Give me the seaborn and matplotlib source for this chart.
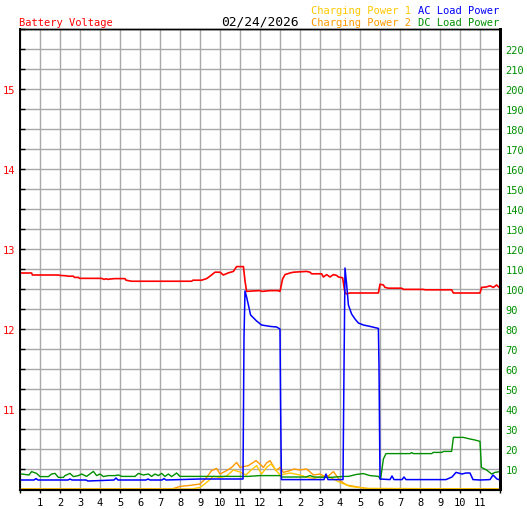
import seaborn as sns
import matplotlib.pyplot as plt

# battery voltage (V) against hour of day
volt_hours = [0.0, 0.58, 0.62, 1.9, 2.0, 2.33, 2.38, 2.67, 2.72, 2.92,
              2.97, 4.08, 4.2, 4.3, 4.4, 4.5, 4.75, 5.25, 5.3, 5.58,
              8.58, 8.65, 9.08, 9.33, 9.5, 9.75, 10.0, 10.17, 10.4, 10.67,
              10.83, 11.17, 11.25, 11.33, 11.6, 12.0, 12.1, 12.5, 12.9, 13.0,
              13.13, 13.25, 13.5, 13.67, 14.33, 14.5, 14.58, 15.08, 15.17, 15.33,
              15.5, 15.67, 15.83, 15.92, 16.13, 16.25, 16.33, 16.5, 17.92, 18.0,
              18.17, 18.25, 18.42, 19.08, 19.17, 20.17, 20.25, 21.58, 21.67, 23.0,
              23.08, 23.3, 23.5, 23.67, 23.83, 24.0]
volt = [12.70, 12.70, 12.675, 12.675, 12.67, 12.665, 12.66, 12.66, 12.645, 12.645,
        12.633, 12.633, 12.62, 12.628, 12.62, 12.625, 12.63, 12.63, 12.61, 12.597,
        12.597, 12.61, 12.61, 12.63, 12.66, 12.71, 12.71, 12.675, 12.70, 12.72,
        12.78, 12.78, 12.60, 12.47, 12.475, 12.48, 12.47, 12.48, 12.48, 12.47,
        12.625, 12.68, 12.70, 12.71, 12.72, 12.71, 12.69, 12.69, 12.65, 12.68,
        12.65, 12.68, 12.67, 12.65, 12.64, 12.45, 12.44, 12.45, 12.45, 12.56,
        12.55, 12.52, 12.51, 12.51, 12.495, 12.495, 12.49, 12.49, 12.45, 12.45,
        12.52, 12.525, 12.54, 12.52, 12.55, 12.51]

# charging power 1 (W)
cp1_hours = [0.0, 8.6, 9.0, 9.3, 9.67, 10.0, 10.33, 10.67, 11.0, 11.3,
             11.58, 11.83, 12.08, 12.33, 12.55, 12.75, 13.0, 13.5, 14.0, 14.3,
             14.67, 15.0, 15.33, 15.67, 16.0, 16.5, 17.33, 24.0]
cp1_power = [0.0, 0.0, 0.8, 3.0, 6.3, 5.8, 6.5, 9.5, 8.5, 7.0,
             9.7, 11.7, 7.5, 10.8, 12.5, 10.0, 7.0, 8.0, 7.0, 6.0,
             5.3, 6.0, 6.7, 5.0, 3.3, 1.3, 0.3, 0.0]

# charging power 2 (W)
cp2_hours = [0.0, 7.6, 8.0, 8.5, 9.0, 9.33, 9.58, 9.83, 10.0, 10.33,
             10.58, 10.83, 11.0, 11.42, 11.8, 12.08, 12.17, 12.33, 12.5, 12.6,
             12.8, 13.0, 13.17, 13.5, 13.7, 14.0, 14.33, 14.67, 15.0, 15.33,
             15.67, 16.0, 16.33, 17.0, 17.5, 24.0]
cp2_power = [0.0, 0.0, 1.3, 1.8, 2.5, 5.8, 9.2, 10.3, 7.5, 9.2,
             10.8, 13.3, 10.8, 11.7, 14.2, 11.7, 10.8, 13.0, 14.2, 12.5,
             9.2, 10.8, 8.3, 9.2, 10.0, 9.5, 10.0, 7.0, 7.5, 5.8,
             8.7, 4.2, 2.0, 0.8, 0.0, 0.0]

# AC load power (W)
ac_hours = [0.0, 0.7, 0.8, 0.9, 2.4, 2.5, 2.6, 3.3, 3.4, 4.7,
            4.8, 4.9, 6.3, 6.4, 6.5, 7.1, 7.2, 7.3, 9.0, 11.15,
            11.2, 11.25, 11.33, 11.42, 11.53, 11.83, 12.08, 12.5, 12.83, 13.0,
            13.03, 13.07, 14.5, 15.2, 15.3, 15.4, 16.15, 16.2, 16.25, 16.33,
            16.42, 16.58, 16.75, 16.92, 17.17, 17.5, 17.92, 17.95, 18.0, 18.5,
            18.6, 18.7, 19.1, 19.2, 19.3, 20.0, 20.6, 21.3, 21.6, 21.8,
            22.1, 22.3, 22.5, 22.65, 23.0, 23.5, 23.65, 23.85, 24.0]
ac_power = [4.5, 4.5, 5.2, 4.5, 4.5, 5.0, 4.5, 4.5, 4.0, 4.5,
            5.5, 4.5, 4.5, 5.0, 4.5, 4.5, 5.2, 4.5, 5.0, 5.0,
            76.0, 99.0, 96.0, 92.0, 87.0, 84.0, 82.0, 81.3, 81.0, 80.0,
            42.5, 4.7, 4.7, 4.7, 7.5, 4.7, 4.7, 60.0, 110.5, 102.5,
            92.0, 87.5, 85.0, 83.0, 82.0, 81.3, 80.3, 61.7, 5.0, 4.7,
            6.5, 4.7, 4.7, 6.0, 4.7, 4.7, 4.7, 4.7, 6.0, 8.3,
            7.5, 8.0, 8.0, 4.7, 4.5, 4.7, 7.0, 5.0, 4.5]

# DC load power (W)
dc_hours = [0.0, 0.08, 0.45, 0.58, 0.83, 1.0, 1.42, 1.58, 1.75, 1.92,
            2.17, 2.25, 2.5, 2.67, 2.92, 3.08, 3.33, 3.67, 3.83, 4.0,
            4.17, 4.4, 4.75, 4.92, 5.1, 5.75, 5.92, 6.17, 6.42, 6.58,
            6.75, 6.92, 7.08, 7.25, 7.42, 7.58, 7.83, 8.0, 9.0, 10.0,
            11.4, 12.0, 13.0, 13.1, 14.3, 14.5, 14.7, 15.5, 16.17, 16.42,
            16.83, 17.17, 17.5, 17.92, 18.03, 18.17, 18.3, 19.5, 19.58, 19.66,
            20.58, 20.67, 21.1, 21.17, 21.58, 21.67, 22.17, 22.5, 22.75, 23.0,
            23.07, 23.33, 23.58, 23.75, 24.0]
dc_power = [7.5, 7.5, 7.0, 8.7, 7.8, 6.2, 6.2, 7.5, 7.8, 5.8,
            5.8, 6.7, 7.8, 6.2, 6.7, 7.5, 6.3, 8.8, 6.7, 7.5,
            6.2, 6.7, 6.7, 7.0, 6.3, 6.3, 7.8, 7.0, 7.5, 6.3,
            7.5, 6.7, 7.8, 6.3, 7.5, 6.2, 8.0, 6.3, 6.3, 6.3,
            6.3, 6.7, 6.7, 6.0, 6.0, 6.7, 6.0, 5.8, 6.3, 6.3,
            7.3, 7.7, 6.7, 6.3, 5.0, 15.0, 17.7, 17.7, 18.2, 17.7,
            17.7, 18.3, 18.3, 18.8, 18.8, 25.8, 25.8, 25.0, 24.5, 23.8,
            10.8, 9.5, 7.5, 8.3, 8.7]

hour_labels = [''] + [str(h if h <= 12 else h - 12) for h in range(1, 24)] + ['']

RED = '#ff0000'
BLUE = '#0000ff'
GREEN = '#009000'
GOLD = '#ffc800'
ORANGE = '#ff9900'
GRID = '#a8a8a8'

sns.set_style('white')
plt.rcParams['font.family'] = ['DejaVu Sans Mono', 'DejaVu Sans']

W, H = 527, 510
fig = plt.figure(figsize=(W / 100, H / 100), dpi=100)
ax = fig.add_axes([20 / W, 20 / H, 480 / W, 460 / H])
ax2 = ax.twinx()

sns.lineplot(x=volt_hours, y=volt, ax=ax, color=RED, linewidth=1.2)
sns.lineplot(x=cp2_hours, y=cp2_power, ax=ax2, color=ORANGE, linewidth=1.0)
sns.lineplot(x=cp1_hours, y=cp1_power, ax=ax2, color=GOLD, linewidth=1.0)
sns.lineplot(x=dc_hours, y=dc_power, ax=ax2, color=GREEN, linewidth=1.0)
sns.lineplot(x=ac_hours, y=ac_power, ax=ax2, color=BLUE, linewidth=1.1)
for line in ax2.get_lines():
    line.set_clip_on(False)

ax.set_xlim(0, 24)
ax.set_ylim(10, 15.75)
ax2.set_ylim(0, 230)

ax.set_xticks(range(25))
ax.set_xticklabels(hour_labels)
vticks = [10 + 0.25 * i for i in range(24)]
ax.set_yticks(vticks)
ax.set_yticklabels([str(int(v)) if v == int(v) and 11 <= v <= 15 else '' for v in vticks])
pticks = list(range(0, 231, 10))
ax2.set_yticks(pticks)
ax2.set_yticklabels([str(p) if 10 <= p <= 220 else '' for p in pticks])

ax.grid(True, color=GRID, linewidth=1.0)
ax.set_axisbelow(True)
ax2.grid(False)

ax.xaxis.set_ticks_position('bottom')
ax.yaxis.set_ticks_position('left')
ax2.yaxis.set_ticks_position('right')
ax.tick_params(axis='x', direction='out', length=2.5, width=1, color='black',
               labelsize=7.5, labelcolor='black', pad=2.5)
ax.tick_params(axis='y', which='both', direction='in', length=3.6, width=1, color='black',
               labelsize=7.5, labelcolor=RED, pad=3.5, right=False)
ax2.tick_params(axis='y', which='both', length=0, width=0, labelsize=7.5,
                labelcolor=GREEN, pad=4, left=False)
ax2.tick_params(axis='x', which='both', top=False, bottom=False)

for a in (ax, ax2):
    for s in a.spines.values():
        s.set_color('black')
    a.spines['left'].set_linewidth(1.2)
    a.spines['bottom'].set_linewidth(1.5)
    a.spines['bottom'].set_position(('outward', 1))
    a.spines['top'].set_linewidth(1.0)
    a.spines['right'].set_linewidth(2.0)
    a.set_xlabel('')
    a.set_ylabel('')

def top_text(x, y, s, color, size=7.5):
    fig.text(x / W, 1 - y / H, s, color=color, fontsize=size, ha='left', va='baseline')

top_text(19, 26, 'Battery Voltage', RED)
top_text(221, 25.5, '02/24/2026', 'black', size=9.3)
top_text(311, 14, 'Charging Power 1', GOLD)
top_text(311, 26, 'Charging Power 2', ORANGE)
top_text(418, 14, 'AC Load Power', BLUE)
top_text(418, 26, 'DC Load Power', GREEN)

fig.savefig('out.png', dpi=100)
plt.close(fig)
